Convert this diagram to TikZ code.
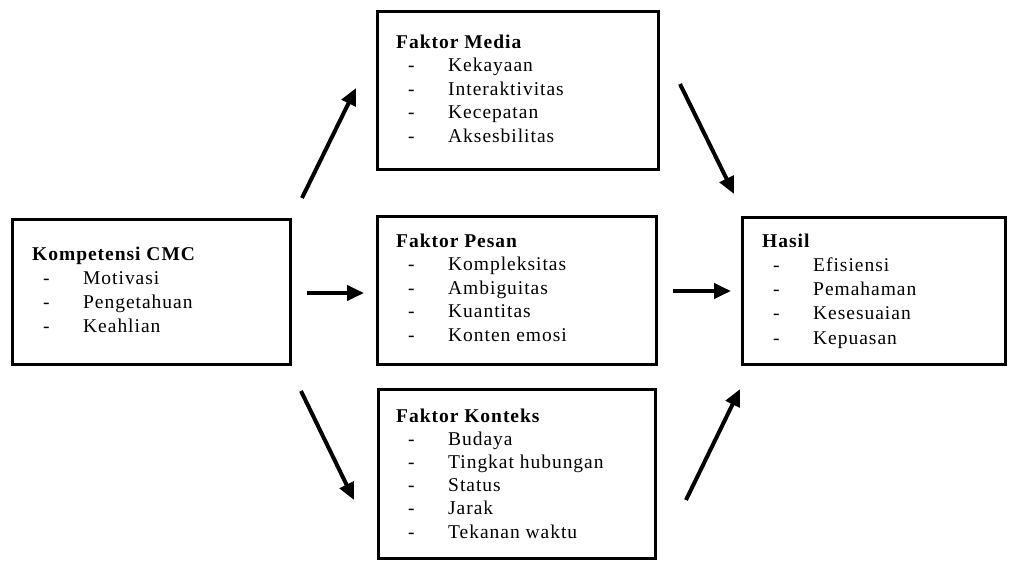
\documentclass[tikz,border=0pt]{standalone}
\usepackage{fontspec}
\setmainfont{Liberation Serif}[LetterSpace=5]
\usetikzlibrary{arrows.meta}
\begin{document}
\begin{tikzpicture}[x=1pt,y=-1pt,
  box/.style={draw=black,line width=3pt,inner sep=0pt,anchor=north west},
  ttl/.style={anchor=base west,inner sep=0pt,font=\fontsize{19.5}{22}\selectfont\bfseries},
  itm/.style={anchor=base west,inner sep=0pt,font=\fontsize{19.5}{22}\selectfont},
  arr/.style={line width=4pt,-{Triangle[length=17pt,width=15pt]}}]
\useasboundingbox[fill=white] (0,0) rectangle (1010,560);

% boxes
\node[box,minimum width=278pt,minimum height=145pt] (komp) at (11,218) {};
\node[box,minimum width=281pt,minimum height=158pt] (media) at (376,10) {};
\node[box,minimum width=279pt,minimum height=148pt] (pesan) at (376,215) {};
\node[box,minimum width=277pt,minimum height=169pt] (konteks) at (377,388) {};
\node[box,minimum width=263pt,minimum height=147pt] (hasil) at (741,216) {};

% Kompetensi CMC
\node[ttl] (kompT) at (32,260) {Kompetensi CMC};
\foreach \t [count=\i] in {Motivasi,Pengetahuan,Keahlian}{
  \pgfmathsetmacro{\yy}{260+24.3*\i}
  \node[itm] (kompD\i) at (43,\yy) {-};
  \node[itm] (kompI\i) at (83,\yy) {\t};
}

% Faktor Media
\node[ttl] (mediaT) at (396,48) {Faktor Media};
\foreach \t [count=\i] in {Kekayaan,Interaktivitas,Kecepatan,Aksesbilitas}{
  \pgfmathsetmacro{\yy}{48+23.5*\i}
  \node[itm] (mediaD\i) at (408,\yy) {-};
  \node[itm] (mediaI\i) at (448,\yy) {\t};
}

% Faktor Pesan
\node[ttl] (pesanT) at (396,247) {Faktor Pesan};
\foreach \t [count=\i] in {Kompleksitas,Ambiguitas,Kuantitas,Konten emosi}{
  \pgfmathsetmacro{\yy}{247+23.5*\i}
  \node[itm] (pesanD\i) at (408,\yy) {-};
  \node[itm] (pesanI\i) at (448,\yy) {\t};
}

% Faktor Konteks
\node[ttl] (konteksT) at (396,422) {Faktor Konteks};
\foreach \t [count=\i] in {Budaya,Tingkat hubungan,Status,Jarak,Tekanan waktu}{
  \pgfmathsetmacro{\yy}{422+23.2*\i}
  \node[itm] (konteksD\i) at (408,\yy) {-};
  \node[itm] (konteksI\i) at (448,\yy) {\t};
}

% Hasil
\node[ttl] (hasilT) at (762,247) {Hasil};
\foreach \t [count=\i] in {Efisiensi,Pemahaman,Kesesuaian,Kepuasan}{
  \pgfmathsetmacro{\yy}{247+24.3*\i}
  \node[itm] (hasilD\i) at (773,\yy) {-};
  \node[itm] (hasilI\i) at (813,\yy) {\t};
}

% arrow end points
\coordinate (a1s) at (302,198); \coordinate (a1e) at (356,88);
\coordinate (a2s) at (307,293); \coordinate (a2e) at (364,293);
\coordinate (a3s) at (301,391); \coordinate (a3e) at (354,500);
\coordinate (a4s) at (680,84);  \coordinate (a4e) at (734,194);
\coordinate (a5s) at (673,291); \coordinate (a5e) at (731,291);
\coordinate (a6s) at (686,500); \coordinate (a6e) at (740,389);

\draw[arr] (a1s) -- (a1e);
\draw[arr] (a2s) -- (a2e);
\draw[arr] (a3s) -- (a3e);
\draw[arr] (a4s) -- (a4e);
\draw[arr] (a5s) -- (a5e);
\draw[arr] (a6s) -- (a6e);
\end{tikzpicture}
\end{document}
